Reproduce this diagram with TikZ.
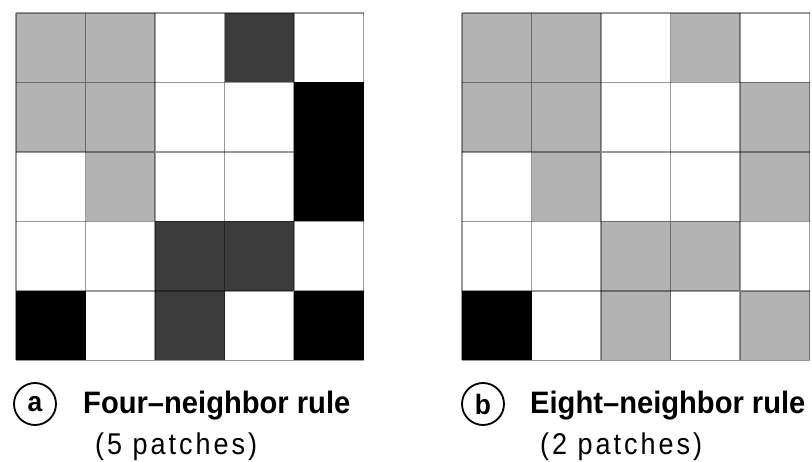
\documentclass[tikz,border=0pt]{standalone}
\usepackage{fontspec}
\setmainfont{Liberation Sans}
\newfontfamily\narrowfont[FakeStretch=0.94]{Liberation Sans}
\newfontfamily\spacedfont[FakeStretch=0.9,LetterSpace=10]{Liberation Sans}
\colorlet{cell0}{white}
\definecolor{cell1}{RGB}{179,179,179}
\definecolor{cell2}{RGB}{60,60,60}
\colorlet{cell3}{black}
\begin{document}
\begin{tikzpicture}[x=1pt,y=-1pt,
  tag/.style={circle,draw,line width=1.8pt,minimum size=42pt,inner sep=0pt,font=\fontsize{28}{32}\narrowfont\bfseries},
  title/.style={anchor=base west,inner sep=0pt,font=\fontsize{31}{36}\narrowfont\bfseries},
  count/.style={anchor=base west,inner sep=0pt,font=\fontsize{30}{34}\spacedfont}]
\useasboundingbox (0,0) rectangle (812,462);
% four-neighbor grid (0 white, 1 gray, 2 dark, 3 black)
\begin{scope}[shift={(16,13)}]
\foreach \row [count=\r from 0] in {{1,1,0,2,0},{1,1,0,0,3},{0,1,0,0,3},{0,0,2,2,0},{3,0,2,0,3}}
  \foreach \v [count=\c from 0] in \row \fill[cell\v] (\c*69.5,\r*69.5) rectangle ++(69.5,69.5);
\foreach \i in {0,...,5} \draw[black,opacity=0.4,line width=1.8pt] (\i*69.5,0) -- (\i*69.5,347.5) (0,\i*69.5) -- (347.5,\i*69.5);
\end{scope}
% eight-neighbor grid
\begin{scope}[shift={(462,13)}]
\foreach \row [count=\r from 0] in {{1,1,0,1,0},{1,1,0,0,1},{0,1,0,0,1},{0,0,1,1,0},{3,0,1,0,1}}
  \foreach \v [count=\c from 0] in \row \fill[cell\v] (\c*69.5,\r*69.5) rectangle ++(69.5,69.5);
\foreach \i in {0,...,5} \draw[black,opacity=0.4,line width=1.8pt] (\i*69.5,0) -- (\i*69.5,347.5) (0,\i*69.5) -- (347.5,\i*69.5);
\end{scope}
% captions
\node[tag] (taga) at (35,404) {a};
\node[title] (rulea) at (83,414) {Four–neighbor rule};
\node[count] (counta) at (95,455) {(5 patches)};
\node[tag] (tagb) at (483,404) {b};
\node[title] (ruleb) at (530,414) {Eight–neighbor rule};
\node[count] (countb) at (540,455) {(2 patches)};
\end{tikzpicture}
\end{document}
